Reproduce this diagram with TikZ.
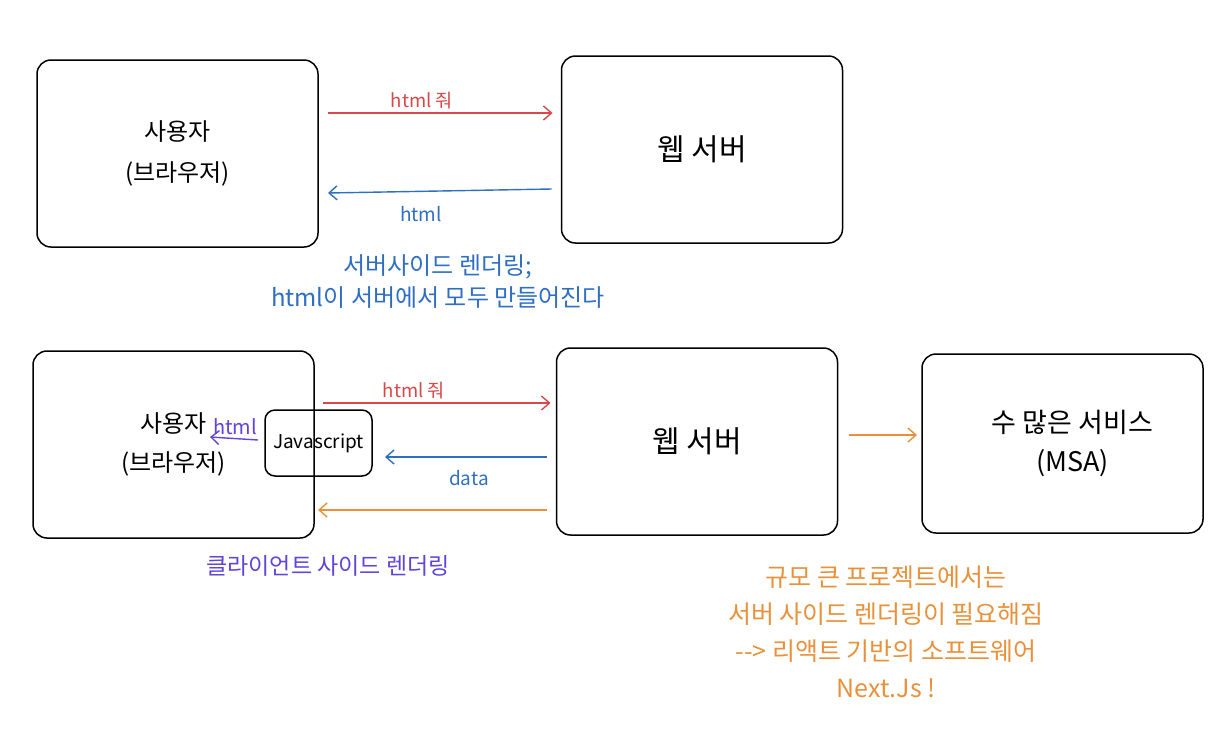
\documentclass[tikz,border=0pt]{standalone}
\usepackage{fontspec}
\setmainfont{Noto Sans CJK KR}
\usepackage{xcolor}
\definecolor{redline}{HTML}{D94848}
\definecolor{blueline}{HTML}{2F6FC2}
\definecolor{orangeline}{HTML}{E8913A}
\definecolor{violetline}{HTML}{6144DA}
\newcommand{\fs}[2]{\fontsize{#1}{#2}\selectfont}
\usetikzlibrary{arrows.meta}

\begin{document}
\begin{tikzpicture}[x=0.5pt,y=-0.5pt,every node/.style={inner sep=1,outer sep=0},
    box/.style={draw,line width=0.75pt,rounded corners=7pt,minimum width=140.5pt,minimum height=93.5pt,align=center},
    >={Straight Barb[length=4pt,width=7pt]},
    link/.style={->,line width=0.7pt}]
    \useasboundingbox (0,0) rectangle (1230,740);

    %% server side rendering
    \node(u1)[box,font=\fs{12}{20.5}] at (177.5,153.5) {사용자\\(브라우저)};
    \node(w1)[box,font=\fs{15}{18}] at (702,149.5) {웹 서버};

    \draw [link,redline] ([shift={(10,-40.5)}]u1.east) -- ([shift={(-9,-36.5)}]w1.west);
    \draw [link,blueline] ([shift={(-10,39.5)}]w1.west) -- ([shift={(10,39.5)}]u1.east);
    \node(q1)[text=redline,font=\fs{9.3}{11}] at (422,101) {html 줘};
    \node(a1)[text=blueline,font=\fs{9.5}{11}] at (421,214) {html};
    \node(ssr)[text=blueline,font=\fs{12}{16},align=center] at (438,282) {서버사이드 렌더링;\\html이 서버에서 모두 만들어진다};

    %% client side rendering
    \node(u2)[box,font=\fs{12}{19.5}] at (173.5,444.5) {사용자\\(브라우저)};
    \node(js)[draw,line width=0.75pt,rounded corners=5pt,minimum width=53.5pt,minimum height=33pt,font=\fs{9.5}{11}] at (318.5,443) {Javascript};
    \node(w2)[box,font=\fs{15}{18}] at (697,441.5) {웹 서버};
    \node(m)[box,minimum height=89.5pt,font=\fs{13.5}{19.5}] at (1062.5,443.5) {\hspace*{10pt}수 많은 서비스\\\hspace*{10pt}(MSA)};

    \draw [link,redline] ([shift={(9,-41.5)}]u2.east) -- ([shift={(-6,-38.5)}]w2.west);
    \draw [link,blueline] ([shift={(-10,15.5)}]w2.west) -- ([shift={(13,14)}]js.east);
    \draw [link,orangeline] ([shift={(-10,68.5)}]w2.west) -- ([shift={(4,65.5)}]u2.east);
    \draw [link,violetline] ([shift={(-7,-3)}]js.west) -- ([shift={(-55,-6)}]js.west);
    \draw [link,orangeline] ([shift={(11,-6.5)}]w2.east) -- ([shift={(-5,-8.5)}]m.west);
    \node(q2)[text=redline,font=\fs{9.3}{11}] at (414,391) {html 줘};
    \node(d2)[text=blueline,font=\fs{9.5}{11}] at (469,478) {data};
    \node(h2)[text=violetline,font=\fs{10}{11}] at (235,427) {html};
    \node(csr)[text=violetline,font=\fs{11.5}{14}] at (328,566) {클라이언트 사이드 렌더링};

    \node(next)[text=orangeline,font=\fs{12.5}{18.5},align=center] at (886,632) {규모 큰 프로젝트에서는\\서버 사이드 렌더링이 필요해짐\\-{}-> 리액트 기반의 소프트웨어\\Next.Js !};
\end{tikzpicture}
\end{document}
